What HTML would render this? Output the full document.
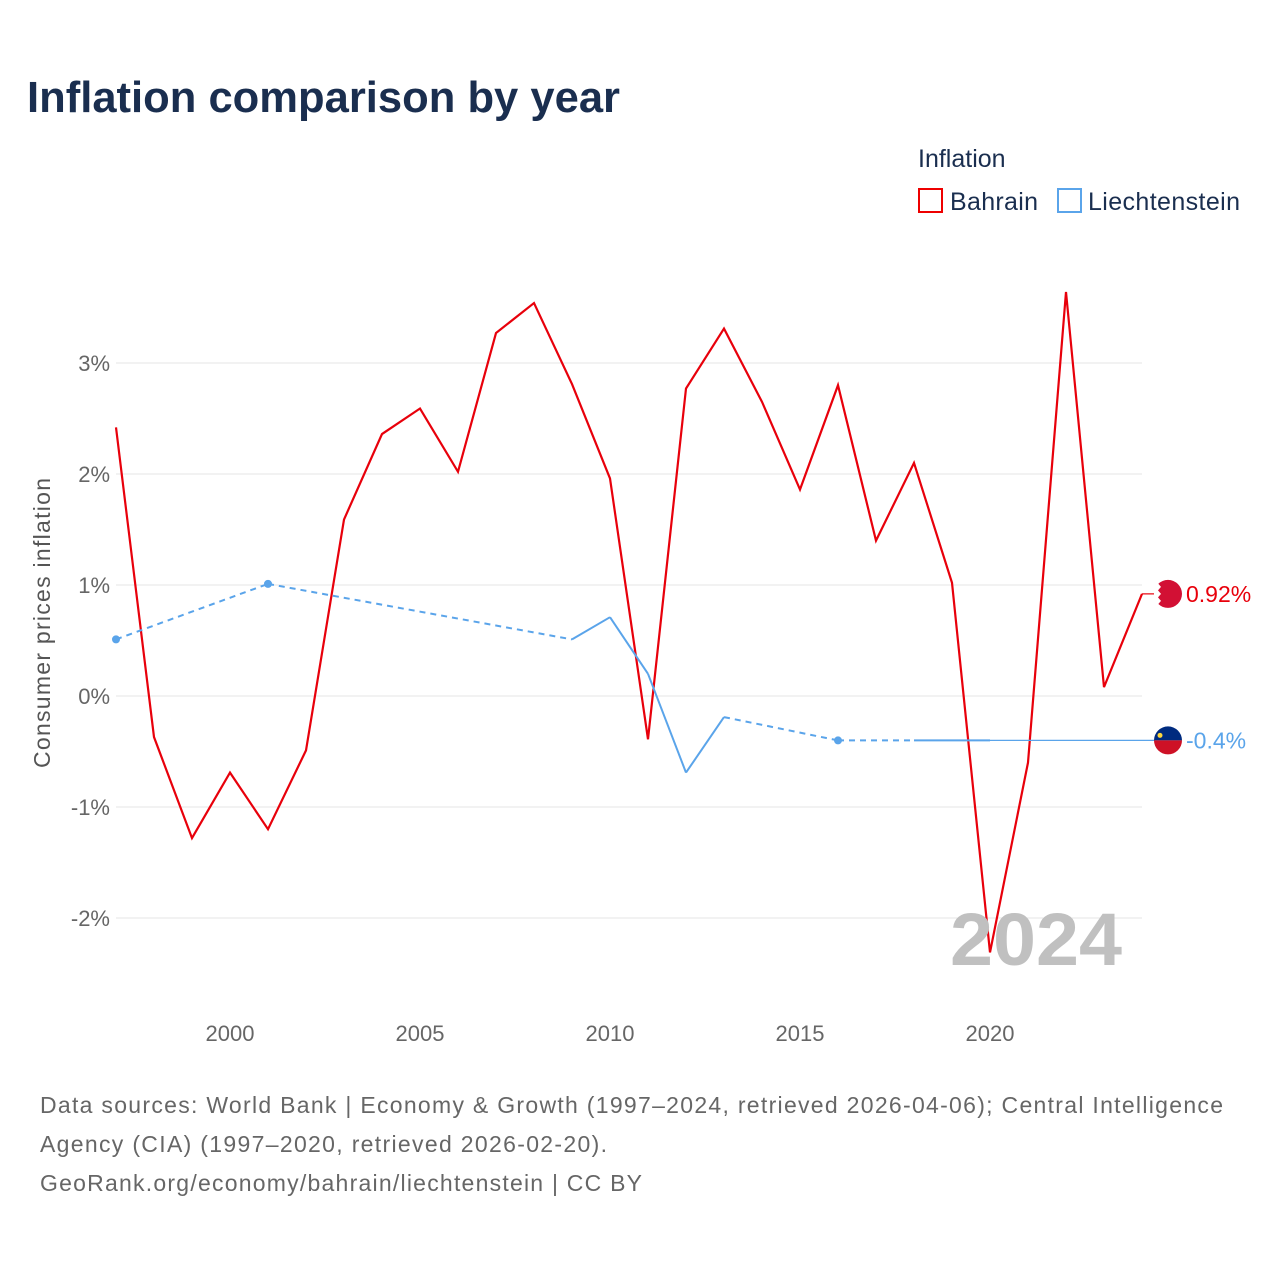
<!DOCTYPE html>
<html><head><meta charset="utf-8"><style>
body{margin:0;background:#fff;font-family:"Liberation Sans",sans-serif;}
#wrap{position:relative;width:1280px;height:1280px;overflow:hidden;}
</style></head><body>
<div id="wrap">
<svg id="chart" width="1280" height="1280" xmlns="http://www.w3.org/2000/svg">
<text x="27" y="112" font-size="44" font-weight="bold" fill="#1a2e4f" textLength="593" lengthAdjust="spacingAndGlyphs">Inflation comparison by year</text>
<text x="918" y="167" font-size="25" fill="#1a2e4f">Inflation</text>
<g><rect x="919" y="189" width="23" height="23" fill="none" stroke="#e00" stroke-width="2"/><text x="950" y="210" font-size="25" fill="#1a2e4f" textLength="88">Bahrain</text></g>
<g><rect x="1058" y="189" width="23" height="23" fill="none" stroke="#5aa4ea" stroke-width="2"/><text x="1088" y="210" font-size="25" fill="#1a2e4f" textLength="152">Liechtenstein</text></g>
<g id="grid"></g><g id="marks"></g>
<text x="950" y="965" font-size="74" font-weight="bold" fill="#c0c0c0" textLength="172" lengthAdjust="spacingAndGlyphs">2024</text>
<text transform="translate(50,623) rotate(-90)" font-size="23" fill="#555" text-anchor="middle" textLength="290">Consumer prices inflation</text>
<g font-size="23" fill="#666">
<text x="40" y="1113" textLength="1183">Data sources: World Bank | Economy &amp; Growth (1997–2024, retrieved 2026-04-06); Central Intelligence</text>
<text x="40" y="1152" textLength="567">Agency (CIA) (1997–2020, retrieved 2026-02-20).</text>
<text x="40" y="1191" textLength="602">GeoRank.org/economy/bahrain/liechtenstein | CC BY</text>
</g>
</svg>
</div>
<script>
const years=[1997,1998,1999,2000,2001,2002,2003,2004,2005,2006,2007,2008,2009,2010,2011,2012,2013,2014,2015,2016,2017,2018,2019,2020,2021,2022,2023,2024];
const bahrain=[2.42,-0.37,-1.28,-0.69,-1.20,-0.49,1.59,2.36,2.59,2.02,3.27,3.54,2.81,1.96,-0.39,2.77,3.31,2.65,1.86,2.80,1.40,2.10,1.02,-2.31,-0.60,3.64,0.08,0.92];
const liechtenstein=[0.51,null,null,null,1.01,null,null,null,null,null,null,null,0.51,0.71,0.20,-0.69,-0.19,null,null,-0.40,null,-0.40,-0.40,-0.40,null,null,null,null];
const yTicks=[-2,-1,0,1,2,3];
const xTicks=[2000,2005,2010,2015,2020];
const NS="http://www.w3.org/2000/svg";
const X=y=>116+(y-1997)*38;
const Y=v=>696-v*111;
function mk(tag,attrs,parent){const e=document.createElementNS(NS,tag);for(const k in attrs)e.setAttribute(k,attrs[k]);parent.appendChild(e);return e;}
const grid=document.getElementById('grid'),marks=document.getElementById('marks');
yTicks.forEach(t=>{
 const l=mk('line',{x1:116,x2:1142,y1:Y(t),y2:Y(t),stroke:'#e6e6e6','stroke-width':1},grid);
 
 
 const tx=mk('text',{x:110,y:Y(t)+8,'font-size':22,fill:'#666','text-anchor':'end'},grid);
 tx.textContent=(t<0?'-':'')+Math.abs(t)+'%';
 
 
});
xTicks.forEach(t=>{
 const tx=mk('text',{x:X(t),y:1041,'font-size':22,fill:'#666','text-anchor':'middle'},grid);
 tx.textContent=t;
 
 
});
const bp=mk('polyline',{points:years.map((y,i)=>X(y)+','+Y(bahrain[i])).join(' '),fill:'none',stroke:'#e8000b','stroke-width':2.2},marks);


const pts=[];years.forEach((y,i)=>{if(liechtenstein[i]!==null)pts.push(i);});
for(let k=0;k<pts.length-1;k++){
 const a=pts[k],b=pts[k+1],dashed=b-a>1;
 const l=mk('line',{x1:X(years[a]),y1:Y(liechtenstein[a]),x2:X(years[b]),y2:Y(liechtenstein[b]),stroke:'#5aa4ea','stroke-width':2,'stroke-dasharray':dashed?'6 5':'none'},marks);
 
 
}
pts.forEach((i,k)=>{
 const prevAdj=k>0&&pts[k-1]===i-1, nextAdj=k<pts.length-1&&pts[k+1]===i+1;
 if(!prevAdj&&!nextAdj){
  const c=mk('circle',{cx:X(years[i]),cy:Y(liechtenstein[i]),r:4,fill:'#5aa4ea'},marks);
  
  
 }
});
const lastL=pts[pts.length-1], lv=liechtenstein[lastL], bv=bahrain[bahrain.length-1];
const ext=mk('line',{x1:X(years[lastL]),y1:Y(lv),x2:1155,y2:Y(lv),stroke:'#5aa4ea','stroke-width':1.2},marks);


const bext=mk('line',{x1:X(2024),y1:Y(bv),x2:1155,y2:Y(bv),stroke:'#e8000b','stroke-width':1.2},marks);


const fb=mk('g',{},marks);


mk('circle',{cx:1168,cy:Y(bv),r:14,fill:'#d21034'},fb);
mk('path',{d:`M1154 ${Y(bv)-14} h7 l-3 3.5 l3 3.5 l-3 3.5 l3 3.5 l-3 3.5 l3 3.5 l-3 3.5 l3 3.5 h-7z`,fill:'#fff'},fb);
const fl=mk('g',{},marks);


mk('path',{d:`M1154 ${Y(lv)} a14 14 0 0 1 28 0z`,fill:'#002b7f'},fl);
mk('path',{d:`M1154 ${Y(lv)} a14 14 0 0 0 28 0z`,fill:'#ce1126'},fl);
mk('circle',{cx:1160,cy:Y(lv)-5,r:2.5,fill:'#ffd83d'},fl);
const tb=mk('text',{x:1186,y:Y(bv)+8,'font-size':23,fill:'#e8000b'},marks);
tb.textContent=bv.toFixed(2)+'%';


const tl=mk('text',{x:1186,y:Y(lv)+8,'font-size':23,fill:'#5aa4ea'},marks);
tl.textContent=lv+'%';


</script>
</body></html>
